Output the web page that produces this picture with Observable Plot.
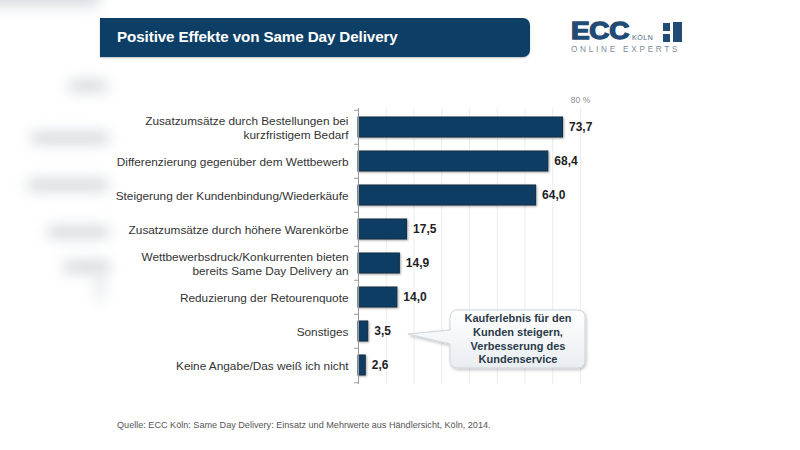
<!DOCTYPE html>
<html>
<head>
<meta charset="utf-8">
<script src="https://cdn.jsdelivr.net/npm/d3@7"></script>
<script src="https://cdn.jsdelivr.net/npm/@observablehq/plot@0.6"></script>
<style>
  html, body { margin: 0; padding: 0; background: #fff; }
  #page { position: relative; width: 800px; height: 450px; overflow: hidden; font-family: "Liberation Sans", Arial, sans-serif; background: #fff; }
  .blur { position: absolute; background: #d3d9de; filter: blur(7px); border-radius: 6px; }
  #banner { position: absolute; left: 100px; top: 18px; width: 430px; height: 39px; background: #0d3f66; border-radius: 0 7px 7px 0; box-shadow: 0 1px 2px rgba(0,0,0,0.25); }
  #banner span { position: absolute; left: 17px; top: 10px; color: #fff; font-weight: bold; font-size: 15.2px; letter-spacing: -0.1px; }
  #logo { position: absolute; left: 568px; top: 18px; }
  #chart { position: absolute; left: 0; top: 0; }
  #caption { position: absolute; left: 117px; top: 420px; font-size: 9.1px; color: #555; }
  #callout { position: absolute; left: 0; top: 0; }
  g[aria-label="bar"] rect { filter: drop-shadow(1px 1px 1px rgba(0,0,0,0.35)); }
</style>
</head>
<body>
<div id="page">
  <div class="blur" style="left:-20px;top:-14px;width:120px;height:20px;background:#d6dce1;"></div>
  <div class="blur" style="left:68px;top:80px;width:40px;height:12px;"></div>
  <div class="blur" style="left:30px;top:132px;width:80px;height:12px;"></div>
  <div class="blur" style="left:26px;top:179px;width:84px;height:12px;"></div>
  <div class="blur" style="left:46px;top:226px;width:64px;height:12px;"></div>
  <div class="blur" style="left:62px;top:261px;width:48px;height:12px;"></div>
  <div class="blur" style="left:96px;top:262px;width:8px;height:40px;background:#e3e7ea;"></div>
  <div id="banner"><span>Positive Effekte von Same Day Delivery</span></div>
  <svg id="logo" width="125" height="40" viewBox="0 0 125 40">
    <text x="3" y="21" font-family="Liberation Sans, Arial, sans-serif" font-weight="bold" font-size="23" fill="#1f4b75" stroke="#1f4b75" stroke-width="1.3" letter-spacing="-0.3" textLength="58" lengthAdjust="spacingAndGlyphs">ECC</text>
    <text x="64" y="22" font-family="Liberation Sans, Arial, sans-serif" font-size="7" fill="#4d6580" letter-spacing="0.6">KÖLN</text>
    <rect x="95" y="5" width="7" height="8" fill="#1f4b75"/>
    <rect x="95" y="16" width="7" height="8" fill="#1f4b75"/>
    <rect x="105" y="4" width="9" height="20" fill="#1f4b75"/>
    <text x="3" y="34" font-family="Liberation Sans, Arial, sans-serif" font-size="8.2" fill="#7d8b99" letter-spacing="2.75">ONLINE EXPERTS</text>
  </svg>
  <div id="chart"></div>
  <svg id="callout" width="800" height="450">
    <defs>
      <linearGradient id="cg" x1="0" y1="0" x2="0" y2="1">
        <stop offset="0" stop-color="#ffffff"/>
        <stop offset="1" stop-color="#e9edf1"/>
      </linearGradient>
      <filter id="sh" x="-20%" y="-20%" width="140%" height="140%">
        <feDropShadow dx="1" dy="1.5" stdDeviation="1.5" flood-color="#000" flood-opacity="0.25"/>
      </filter>
    </defs>
    <path d="M458,310 H577 Q585,310 585,318 V360 Q585,368 577,368 H458 Q450,368 450,360 V344 L408,334 L450,330 V318 Q450,310 458,310 Z" fill="url(#cg)" stroke="#cfd5db" stroke-width="1" filter="url(#sh)"/>
    <g font-family="Liberation Sans, Arial, sans-serif" font-weight="bold" font-size="11" fill="#2b3a48" text-anchor="middle">
      <text x="518" y="322">Kauferlebnis für den</text>
      <text x="518" y="336">Kunden steigern,</text>
      <text x="518" y="350">Verbesserung des</text>
      <text x="518" y="363">Kundenservice</text>
    </g>
  </svg>
  <div id="caption">Quelle: ECC Köln: Same Day Delivery: Einsatz und Mehrwerte aus Händlersicht, Köln, 2014.</div>
</div>
<script>
const categories = [
  "Zusatzumsätze durch Bestellungen bei\nkurzfristigem Bedarf",
  "Differenzierung gegenüber dem Wettbewerb",
  "Steigerung der Kundenbindung/Wiederkäufe",
  "Zusatzumsätze durch höhere Warenkörbe",
  "Wettbewerbsdruck/Konkurrenten bieten\nbereits Same Day Delivery an",
  "Reduzierung der Retourenquote",
  "Sonstiges",
  "Keine Angabe/Das weiß ich nicht"
];
const values = [73.7, 68.4, 64.0, 17.5, 14.9, 14.0, 3.5, 2.6];
const gridTicks = [10, 20, 30, 40, 50, 60, 70, 80];
const axisTicks = [80];

const data = categories.map((c, i) => ({category: c, value: values[i]}));
const fmt = v => v.toFixed(1).replace(".", ",");

const W = 800, H = 450, mT = 108, mB = 66;
const step = (H - mT - mB) / categories.length;

const chart = Plot.plot({
  width: W,
  height: H,
  marginLeft: 358,
  marginRight: 220,
  marginTop: mT,
  marginBottom: mB,
  style: {fontFamily: "Liberation Sans, Arial, sans-serif", background: "transparent"},
  x: {domain: [0, 80]},
  y: {domain: categories, paddingInner: 0.42, paddingOuter: 0.21},
  marks: [
    Plot.ruleX(gridTicks, {stroke: "#ededed", strokeWidth: 1}),
    Plot.axisX({anchor: "top", ticks: axisTicks, tickSize: 0, tickPadding: 6, tickFormat: d => d + " %", fontSize: 8.5, color: "#8a8a8a", label: null}),
    Plot.axisY({tickSize: 0, tickPadding: 10, fontSize: 11.8, lineHeight: 1.18, color: "#333", label: null}),
    Plot.barX(data, {x: "value", y: "category", fill: "#0e3d64", stroke: "#132c42", strokeWidth: 1}),
    Plot.text(data, {x: "value", y: "category", text: d => fmt(d.value), dx: 6, textAnchor: "start", fontWeight: "bold", fontSize: 12, fill: "#1e1e1e"}),
    Plot.ruleX([0], {stroke: "#9a9a9a", strokeWidth: 1}),
    Plot.ruleY(categories, {y: d => d, x1: -1.4, x2: 0, dy: -step / 2, stroke: "#9a9a9a"}),
    Plot.ruleY(categories.slice(-1), {y: d => d, x1: -1.4, x2: 0, dy: step / 2, stroke: "#9a9a9a"})
  ]
});
document.getElementById("chart").appendChild(chart);
</script>
</body>
</html>
